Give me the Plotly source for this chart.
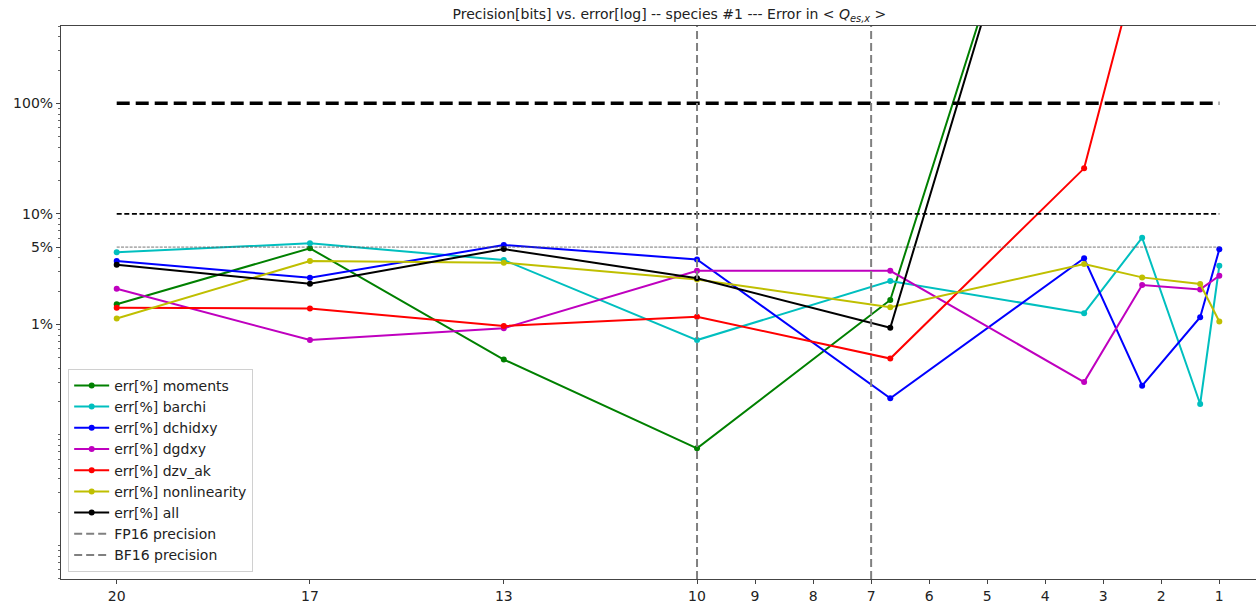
import plotly.graph_objects as go

# ---------------- data ----------------
bits = [20, 16.67, 13.33, 10, 6.67, 3.33, 2.33, 1.33, 1]

err_moments = [1.52, 4.88, 0.48, 0.0755, 1.66, 5.5e5, 8e5, 9e5, 1e6]
err_barchi = [4.49, 5.41, 3.82, 0.72, 2.47, 1.26, 6.08, 0.19, 3.39]
err_dchidxy = [3.74, 2.64, 5.22, 3.87, 0.214, 3.96, 0.278, 1.16, 4.77]
err_dgdxy = [2.10, 0.72, 0.92, 3.05, 3.05, 0.30, 2.27, 2.07, 2.75]
err_dzv_ak = [1.41, 1.39, 0.966, 1.17, 0.49, 25.8, 2600, 5000, 8000]
err_nonlinearity = [1.13, 3.74, 3.61, 2.55, 1.43, 3.51, 2.66, 2.32, 1.06]
err_all = [3.46, 2.33, 4.80, 2.61, 0.93, 6.5e5, 8e5, 9e5, 1e6]

series_names = ["err[%] moments", "err[%] barchi", "err[%] dchidxy", "err[%] dgdxy",
                "err[%] dzv_ak", "err[%] nonlinearity", "err[%] all"]
series_values = [err_moments, err_barchi, err_dchidxy, err_dgdxy,
                 err_dzv_ak, err_nonlinearity, err_all]
series_colors = ["#008000", "#00BFBF", "#0000FF", "#BF00BF", "#FF0000", "#BFBF00", "#000000"]

x_tick_vals = [20, 16.67, 13.33, 10, 9, 8, 7, 6, 5, 4, 3, 2, 1]
x_tick_text = ["20", "17", "13", "10", "9", "8", "7", "6", "5", "4", "3", "2", "1"]

y_tick_vals = [1, 5, 10, 100]
y_tick_text = ["1%", "5%", "10%", "100%"]

fp16_bits = 10
bf16_bits = 7
ref_levels = [100, 10, 5]

FONT = "DejaVu Sans"

fig = go.Figure()

for name, vals, col in zip(series_names, series_values, series_colors):
    fig.add_trace(go.Scatter(
        x=bits, y=vals, name=name, mode="lines+markers",
        line=dict(color=col, width=2),
        marker=dict(color=col, size=6),
        cliponaxis=True,
    ))

# horizontal reference lines (not in legend)
ref_styles = [
    dict(color="black", width=3.5, dash="13px,6px"),
    dict(color="black", width=1.6, dash="5px,2.6px"),
    dict(color="#555555", width=0.8, dash="3px,1.3px"),
]
for lvl, st in zip(ref_levels, ref_styles):
    fig.add_trace(go.Scatter(
        x=[bits[0], bits[-1]], y=[lvl, lvl], mode="lines",
        line=st, showlegend=False, hoverinfo="skip",
    ))

# vertical precision lines
for xv, nm, rank in [(fp16_bits, "FP16 precision", 1100), (bf16_bits, "BF16 precision", 1101)]:
    fig.add_vline(x=xv, line=dict(color="gray", width=2, dash="8px,4px"),
                  layer="above", showlegend=True, name=nm, legendrank=rank)

fig.update_layout(
    width=1256, height=601,
    margin=dict(l=61, r=0, t=26, b=22, autoexpand=False),
    paper_bgcolor="white", plot_bgcolor="white",
    font=dict(family=FONT, size=14, color="#222222"),
    title=dict(
        text="Precision[bits] vs. error[log] -- species #1 --- Error in &lt; <i>Q</i><sub><i>es,x</i></sub> &gt;",
        font=dict(family=FONT, size=14, color="#222222"),
        xref="container", x=0.533, xanchor="center",
        yref="container", y=0.976, yanchor="middle",
    ),
    showlegend=True,
    legend=dict(
        x=0.006, y=0.013, xanchor="left", yanchor="bottom",
        bgcolor="rgba(255,255,255,0.85)", bordercolor="#d0d0d0", borderwidth=1,
        font=dict(family=FONT, size=14, color="#222222"),
        tracegroupgap=0, itemwidth=35,
    ),
)

fig.update_xaxes(
    range=[20.96, 0.368],
    tickvals=x_tick_vals, ticktext=x_tick_text,
    ticks="outside", ticklen=4, tickcolor="#444",
    showgrid=False, zeroline=False,
    showline=True, linecolor="#444", linewidth=1.2, mirror=True,
)
fig.update_yaxes(
    type="log", range=[-2.305, 2.70],
    tickvals=y_tick_vals, ticktext=y_tick_text,
    ticks="outside", ticklen=4, tickcolor="#444",
    minor=dict(ticks="outside", ticklen=2, tickcolor="#666", showgrid=False, dtick="D1"),
    showgrid=False, zeroline=False,
    showline=True, linecolor="#444", linewidth=1.2, mirror=True,
)

fig.write_html(
    "out.html",
    config={"displayModeBar": False},
    post_script="document.body.style.margin='0';document.body.style.padding='0';"
                "document.documentElement.style.overflow='hidden';",
)
